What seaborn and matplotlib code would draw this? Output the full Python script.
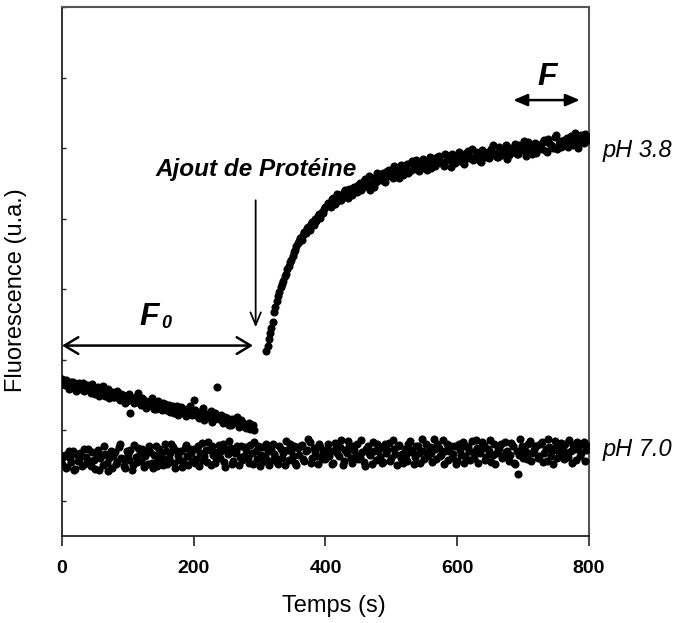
import numpy as np
import pandas as pd
import seaborn as sns
import matplotlib.pyplot as plt

# fluorescence (arbitrary units, 0 at the bottom of the axes)
# pH 7.0, two interleaved sets of readings
temps_ph7_a = np.arange(0, 800, 4)
fluo_ph7_a = [
    1.02, 1.15, 0.98, 1.10, 1.21, 0.95, 1.06, 1.18, 1.00, 1.12,
    1.24, 0.99, 1.08, 1.17, 0.94, 1.13, 1.27, 1.03, 1.11, 0.97,
    1.19, 1.05, 1.30, 1.09, 0.96, 1.16, 1.22, 1.01, 1.12, 1.25,
    1.07, 0.98, 1.20, 1.28, 1.04, 1.15, 0.99, 1.23, 1.10, 1.31,
    1.02, 1.18, 1.26, 0.97, 1.13, 1.21, 1.06, 1.29, 1.00, 1.17,
    1.24, 1.09, 0.99, 1.32, 1.14, 1.05, 1.22, 1.27, 1.03, 1.19,
    1.11, 1.30, 0.98, 1.16, 1.25, 1.07, 1.20, 1.01, 1.28, 1.13,
    1.22, 1.04, 1.17, 1.33, 1.09, 0.99, 1.26, 1.14, 1.21, 1.06,
    1.30, 1.12, 1.02, 1.24, 1.18, 1.35, 1.08, 1.20, 1.27, 1.00,
    1.15, 1.29, 1.06, 1.22, 1.33, 1.11, 1.19, 1.02, 1.26, 1.17,
    1.09, 1.31, 1.21, 1.04, 1.25, 1.14, 1.36, 1.07, 1.18, 1.28,
    1.03, 1.22, 1.30, 1.12, 1.19, 0.99, 1.27, 1.15, 1.34, 1.08,
    1.21, 1.26, 1.05, 1.17, 1.32, 1.10, 1.23, 1.01, 1.29, 1.16,
    1.24, 1.07, 1.35, 1.19, 1.12, 1.28, 1.04, 1.21, 1.30, 1.13,
    1.18, 1.37, 1.09, 1.25, 1.15, 1.02, 1.31, 1.20, 1.11, 1.27,
    1.06, 1.22, 1.33, 1.14, 1.26, 1.08, 1.19, 1.36, 1.03, 1.23,
    1.29, 1.12, 1.20, 1.05, 1.31, 1.17, 1.25, 1.10, 1.34, 1.21,
    1.15, 1.27, 1.02, 0.88, 1.38, 1.11, 1.19, 1.30, 1.07, 1.22,
    1.28, 1.13, 1.33, 1.18, 1.06, 1.26, 1.21, 1.35, 1.10, 1.16,
    1.24, 1.31, 1.12, 1.20, 1.29, 1.08, 1.25, 1.17, 1.33, 1.22,
]
temps_ph7_b = np.arange(2, 800, 4)
fluo_ph7_b = [
    1.12, 0.97, 1.20, 1.05, 0.93, 1.16, 1.09, 0.99, 1.23, 1.04,
    1.07, 1.19, 0.95, 1.22, 1.10, 1.01, 1.16, 0.92, 1.20, 1.14,
    1.02, 1.26, 1.11, 0.99, 1.21, 1.08, 0.94, 1.29, 1.05, 1.17,
    1.24, 1.13, 1.02, 1.19, 0.96, 1.27, 1.09, 1.16, 1.01, 1.21,
    1.11, 1.30, 1.04, 1.20, 1.08, 0.98, 1.25, 1.14, 1.23, 1.06,
    1.03, 1.27, 1.18, 1.08, 1.22, 1.33, 1.00, 1.15, 1.11, 1.29,
    1.20, 1.05, 1.24, 1.35, 1.02, 1.18, 1.28, 1.12, 1.08, 1.26,
    1.10, 1.29, 1.02, 1.20, 1.27, 1.15, 1.06, 1.31, 1.00, 1.23,
    1.16, 1.05, 1.27, 1.11, 1.01, 1.22, 1.31, 1.13, 1.04, 1.25,
    1.28, 1.09, 1.20, 1.37, 1.03, 1.25, 1.13, 1.30, 1.09, 1.21,
    1.23, 1.14, 1.02, 1.32, 1.17, 1.26, 1.01, 1.22, 1.35, 1.10,
    1.27, 1.15, 1.09, 1.36, 1.05, 1.24, 1.18, 1.02, 1.21, 1.31,
    1.12, 1.03, 1.30, 1.22, 1.07, 1.36, 1.16, 1.27, 1.11, 1.04,
    1.15, 1.31, 1.22, 1.02, 1.27, 1.17, 1.37, 1.09, 1.18, 1.26,
    1.05, 1.23, 1.30, 1.14, 1.36, 1.21, 1.08, 1.28, 1.16, 1.02,
    1.31, 1.15, 1.04, 1.28, 1.21, 1.35, 1.11, 1.25, 1.17, 1.33,
    1.08, 1.24, 1.36, 1.15, 1.02, 1.22, 1.30, 1.13, 1.19, 1.06,
    1.32, 1.04, 1.21, 1.15, 1.28, 1.23, 1.09, 1.35, 1.18, 1.27,
    1.11, 1.30, 1.05, 1.24, 1.37, 1.14, 1.02, 1.28, 1.19, 1.32,
    1.09, 1.18, 1.36, 1.04, 1.23, 1.34, 1.14, 1.30, 1.06, 1.27,
]

# pH 3.8, before adding the protein
temps_ph38_avant_a = np.arange(0, 296, 4)
fluo_ph38_avant_a = [
    2.22, 2.14, 2.20, 2.10, 2.19, 2.12, 2.16, 2.08, 2.17, 2.11,
    2.13, 2.03, 2.10, 2.06, 1.98, 2.08, 2.02, 2.07, 1.96, 2.04,
    1.97, 2.05, 1.93, 2.00, 1.88, 1.97, 1.74, 1.95, 1.90, 2.03,
    1.86, 1.93, 1.82, 1.89, 1.95, 1.80, 1.88, 1.84, 1.78, 1.87,
    1.82, 1.76, 1.85, 1.79, 1.72, 1.83, 1.77, 1.70, 1.80, 1.74,
    1.93, 1.72, 1.68, 1.77, 1.65, 1.73, 1.69, 1.62, 1.74, 2.11,
    1.66, 1.60, 1.69, 1.63, 1.57, 1.65, 1.61, 1.55, 1.64, 1.58,
    1.53, 1.60, 1.56, 1.51,
]
temps_ph38_avant_b = np.arange(2, 294, 4)
fluo_ph38_avant_b = [
    2.15, 2.21, 2.09, 2.18, 2.13, 2.06, 2.17, 2.12, 2.05, 2.14,
    2.08, 2.15, 2.01, 2.11, 2.05, 2.12, 1.99, 2.09, 2.03, 1.97,
    2.04, 1.95, 2.01, 1.97, 1.91, 2.02, 1.94, 1.88, 1.98, 1.92,
    1.95, 1.88, 1.84, 1.91, 1.86, 1.80, 1.92, 1.83, 1.89, 1.79,
    1.86, 1.80, 1.74, 1.84, 1.78, 1.82, 1.73, 1.79, 1.84, 1.71,
    1.78, 1.70, 1.75, 1.81, 1.67, 1.72, 1.77, 1.64, 1.70, 1.66,
    1.72, 1.63, 1.68, 1.58, 1.66, 1.61, 1.69, 1.57, 1.62, 1.55,
    1.59, 1.52, 1.57,
]

# pH 3.8, fast rise after adding the protein
temps_ph38_montee = np.arange(310, 402, 2)
fluo_ph38_montee = [
    2.62, 2.70, 2.80, 2.88, 2.95, 3.04, 3.18, 3.25, 3.33, 3.40,
    3.46, 3.53, 3.57, 3.62, 3.68, 3.72, 3.79, 3.83, 3.88, 3.92,
    3.97, 4.02, 4.05, 4.11, 4.16, 4.18, 4.23, 4.20, 4.27, 4.31,
    4.29, 4.36, 4.38, 4.34, 4.42, 4.45, 4.41, 4.50, 4.47, 4.53,
    4.56, 4.51, 4.60, 4.58, 4.63, 4.66,
]

# pH 3.8, plateau, two interleaved sets of readings
temps_ph38_plateau_a = np.arange(404, 804, 4)
fluo_ph38_plateau_a = [
    4.72, 4.66, 4.79, 4.74, 4.83, 4.77, 4.88, 4.81, 4.92, 4.84,
    4.95, 4.87, 5.00, 4.93, 5.06, 4.98, 4.91, 5.08, 5.02, 5.12,
    5.05, 5.15, 5.09, 5.19, 5.11, 5.24, 5.16, 5.08, 5.22, 5.18,
    5.27, 5.17, 5.31, 5.23, 5.28, 5.20, 5.35, 5.25, 5.30, 5.22,
    5.34, 5.28, 5.39, 5.30, 5.25, 5.37, 5.33, 5.42, 5.29, 5.36,
    5.31, 5.40, 5.35, 5.46, 5.38, 5.33, 5.44, 5.39, 5.30, 5.45,
    5.41, 5.36, 5.49, 5.43, 5.38, 5.52, 5.40, 5.47, 5.35, 5.50,
    5.44, 5.56, 5.41, 5.49, 5.53, 5.39, 5.58, 5.46, 5.51, 5.43,
    5.55, 5.48, 5.62, 5.45, 5.57, 5.52, 5.66, 5.49, 5.60, 5.54,
    5.58, 5.51, 5.67, 5.55, 5.63, 5.50, 5.69, 5.57, 5.62, 5.65,
]
temps_ph38_plateau_b = np.arange(406, 800, 4)
fluo_ph38_plateau_b = [
    4.69, 4.78, 4.70, 4.85, 4.76, 4.82, 4.90, 4.79, 4.86, 4.94,
    4.89, 4.97, 4.91, 5.04, 4.96, 5.10, 5.01, 4.95, 5.14, 5.06,
    5.11, 5.02, 5.18, 5.13, 5.07, 5.21, 5.15, 5.26, 5.12, 5.20,
    5.14, 5.29, 5.21, 5.33, 5.18, 5.26, 5.31, 5.19, 5.37, 5.27,
    5.24, 5.38, 5.32, 5.27, 5.41, 5.34, 5.23, 5.39, 5.32, 5.44,
    5.37, 5.28, 5.43, 5.36, 5.48, 5.34, 5.41, 5.32, 5.47, 5.38,
    5.45, 5.39, 5.54, 5.42, 5.37, 5.48, 5.44, 5.55, 5.40, 5.46,
    5.50, 5.42, 5.55, 5.47, 5.60, 5.45, 5.52, 5.41, 5.57, 5.49,
    5.51, 5.59, 5.46, 5.63, 5.54, 5.50, 5.68, 5.56, 5.52, 5.61,
    5.64, 5.54, 5.60, 5.72, 5.56, 5.66, 5.59, 5.70, 5.61,
]

x_ticks = [0, 200, 400, 600, 800]


sns.set_theme(style="white", rc={'text.color': 'black',
                                 'axes.labelcolor': 'black',
                                 'xtick.color': 'black',
                                 'ytick.color': 'black'})
plt.rcParams['font.family'] = ['Liberation Sans', 'DejaVu Sans']

pieces = [
    (temps_ph7_a, fluo_ph7_a),
    (temps_ph7_b, fluo_ph7_b),
    (temps_ph38_avant_a, fluo_ph38_avant_a),
    (temps_ph38_avant_b, fluo_ph38_avant_b),
    (temps_ph38_montee, fluo_ph38_montee),
    (temps_ph38_plateau_a, fluo_ph38_plateau_a),
    (temps_ph38_plateau_b, fluo_ph38_plateau_b),
]
data = pd.concat([pd.DataFrame({'temps': t, 'fluo': f}) for t, f in pieces],
                 ignore_index=True)

fig = plt.figure(figsize=(6.81, 6.23), dpi=100)
ax = fig.add_axes([0.091, 0.1396, 0.7739, 0.8492])

sns.scatterplot(data=data, x='temps', y='fluo', color='black',
                s=34, linewidth=0, legend=False, ax=ax, zorder=3)

ax.set_xlim(0, 800)
ax.set_ylim(0, 7.5)
ax.set_xticks(x_ticks)
ax.set_xticklabels([str(t) for t in x_ticks], fontsize=14, fontweight='bold')
ax.set_yticks(np.arange(0.5, 8, 1))
ax.set_yticklabels([])
ax.tick_params(axis='x', direction='out', length=7, width=1.2,
               color='#222222', pad=10, bottom=True)
ax.tick_params(axis='y', direction='in', length=3, width=1,
               color='#222222', left=True)

for side in ['left', 'bottom']:
    ax.spines[side].set_color('#222222')
    ax.spines[side].set_linewidth(1.3)
for side in ['top', 'right']:
    ax.spines[side].set_color('#555555')
    ax.spines[side].set_linewidth(1.5)

ax.set_xlabel("Temps (s)", fontsize=17)
ax.xaxis.set_label_coords(0.516, -0.112)
ax.set_ylabel("Fluorescence (u.a.)", fontsize=17)
ax.yaxis.set_label_coords(-0.066, 0.465)

# F0 double arrow and label
ax.annotate('', xy=(0, 2.70), xytext=(290, 2.70),
            arrowprops=dict(arrowstyle='<->, head_length=0.5, head_width=0.3',
                            lw=1.8, color='black', mutation_scale=20,
                            shrinkA=0, shrinkB=0))
ax.text(118, 2.99, "F", fontsize=23, fontweight='bold', fontstyle='italic',
        ha='left', va='baseline')
ax.text(151, 2.95, "0", fontsize=13, fontweight='bold', fontstyle='italic',
        ha='left', va='baseline')

# F double arrow and label
ax.annotate('', xy=(685, 6.18), xytext=(786, 6.18),
            arrowprops=dict(arrowstyle='<|-|>, head_length=0.7, head_width=0.3',
                            lw=1.8, color='black', mutation_scale=12,
                            shrinkA=0, shrinkB=0))
ax.text(721, 6.39, "F", fontsize=23, fontweight='bold', fontstyle='italic',
        ha='left', va='baseline')

# protein addition
ax.text(294, 5.10, "Ajout de Protéine", fontsize=17.5, fontweight='bold',
        fontstyle='italic', ha='center', va='baseline')
ax.annotate('', xy=(294, 2.96), xytext=(294, 4.76),
            arrowprops=dict(arrowstyle='->, head_length=0.6, head_width=0.25',
                            lw=1.3, color='black', mutation_scale=15,
                            shrinkA=0, shrinkB=0))

ax.text(821, 5.47, "pH 3.8", fontsize=17, fontstyle='italic',
        ha='left', va='center', clip_on=False)
ax.text(821, 1.22, "pH 7.0", fontsize=17, fontstyle='italic',
        ha='left', va='center', clip_on=False)

fig.savefig("out.png", dpi=100)
